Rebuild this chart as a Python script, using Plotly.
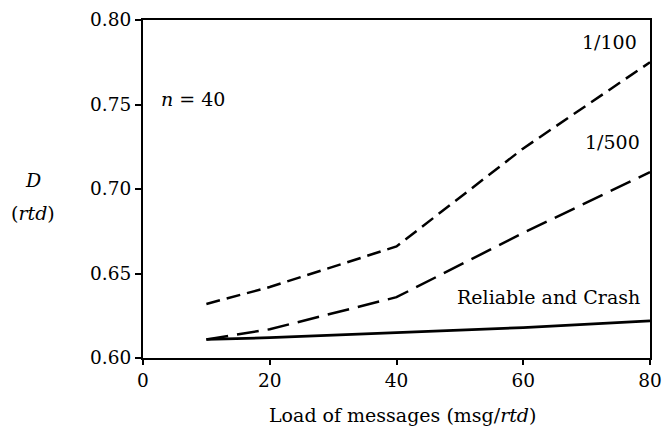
import plotly.graph_objects as go

# Data
load = [10, 20, 40, 60, 80]
d_1_100 = [0.632, 0.642, 0.666, 0.724, 0.775]
d_1_500 = [0.611, 0.617, 0.636, 0.674, 0.710]
d_reliable = [0.611, 0.612, 0.615, 0.618, 0.622]

x_ticks = [0, 20, 40, 60, 80]
y_ticks = [0.60, 0.65, 0.70, 0.75, 0.80]
y_tick_text = ["0.60", "0.65", "0.70", "0.75", "0.80"]

FONT = "DejaVu Serif"
TXT = 19

fig = go.Figure()
fig.add_trace(go.Scatter(x=load, y=d_1_100, mode="lines",
                         line=dict(color="black", width=2.5, dash="14px,7px"),
                         name="1/100"))
fig.add_trace(go.Scatter(x=load, y=d_1_500, mode="lines",
                         line=dict(color="black", width=2.5, dash="22px,9px"),
                         name="1/500"))
fig.add_trace(go.Scatter(x=load, y=d_reliable, mode="lines",
                         line=dict(color="black", width=2.8),
                         name="Reliable and Crash"))

annots = [
    dict(x=78.3, y=0.787, text="1/100", xanchor="right", yanchor="middle"),
    dict(x=78.8, y=0.728, text="1/500", xanchor="right", yanchor="middle"),
    dict(x=78.8, y=0.636, text="Reliable and Crash", xanchor="right", yanchor="middle"),
    dict(x=2.6, y=0.753, text="<i>n</i> = 40", xanchor="left", yanchor="middle"),
]
for a in annots:
    fig.add_annotation(xref="x", yref="y", showarrow=False,
                       font=dict(family=FONT, size=TXT, color="black"), **a)

# axis titles as annotations
fig.add_annotation(xref="paper", yref="paper", x=0.511, y=0, yshift=-57,
                   text="Load of messages (msg/<i>rtd</i>)", showarrow=False,
                   xanchor="center", yanchor="middle",
                   font=dict(family=FONT, size=TXT, color="black"))
fig.add_annotation(xref="paper", yref="paper", x=-0.217, y=0.527,
                   text="<i>D</i>", showarrow=False,
                   xanchor="center", yanchor="middle",
                   font=dict(family=FONT, size=TXT, color="black"))
fig.add_annotation(xref="paper", yref="paper", x=-0.217, y=0.429,
                   text="(<i>rtd</i>)", showarrow=False,
                   xanchor="center", yanchor="middle",
                   font=dict(family=FONT, size=TXT, color="black"))

fig.update_layout(
    width=665, height=431,
    margin=dict(l=143, r=15, t=20, b=73),
    paper_bgcolor="white", plot_bgcolor="white",
    showlegend=False,
    xaxis=dict(range=[0, 80], tickvals=x_ticks, ticks="outside", ticklen=5,
               tickwidth=2, tickcolor="black", showgrid=False, zeroline=False,
               showline=True, linecolor="black", linewidth=2, mirror=True,
               automargin=False,
               tickfont=dict(family=FONT, size=18.5, color="black")),
    yaxis=dict(range=[0.60, 0.80], tickvals=y_ticks, ticktext=y_tick_text,
               ticks="outside", ticklen=6, tickwidth=2, tickcolor="black",
               showgrid=False, zeroline=False, automargin=False,
               showline=True, linecolor="black", linewidth=2, mirror=True,
               tickfont=dict(family=FONT, size=18.5, color="black")),
)

fig.write_html(
    "out.html",
    config={"displayModeBar": False},
    post_script="document.body.style.margin='0';document.body.style.overflow='hidden';",
)
